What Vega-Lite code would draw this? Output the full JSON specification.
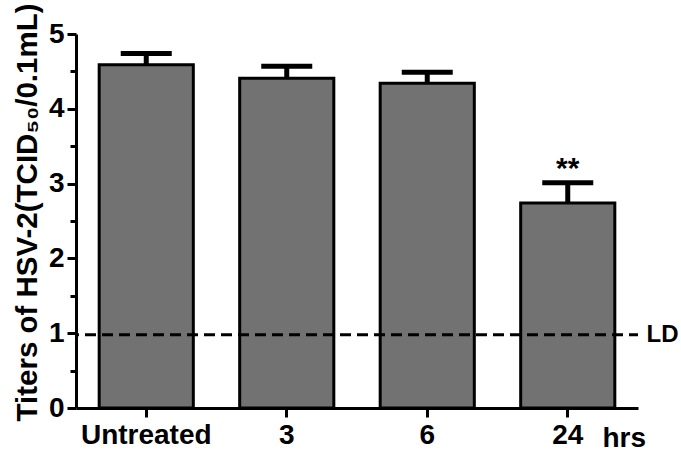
{
  "$schema": "https://vega.github.io/schema/vega-lite/v6.json",
  "width": 562,
  "height": 374,
  "autosize": "none",
  "padding": {"left": 76, "top": 34, "right": 43, "bottom": 44},
  "background": "white",
  "config": {
    "font": "Liberation Sans",
    "view": {"stroke": null},
    "axis": {"labelFontWeight": "bold", "titleFontWeight": "bold", "labelColor": "black", "titleColor": "black", "domainColor": "black", "tickColor": "black", "grid": false}
  },
  "datasets": {
    "bars": [
      {"group": "Untreated", "titer": 4.59, "upper": 4.74},
      {"group": "3", "titer": 4.41, "upper": 4.57},
      {"group": "6", "titer": 4.34, "upper": 4.49},
      {"group": "24", "titer": 2.74, "upper": 3.01}
    ],
    "ld": [{"label": "LD", "value": 0.98}],
    "sig": [{"group": "24", "pos": 3.2, "mark": "**"}]
  },
  "resolve": {"axis": {"y": "independent"}},
  "layer": [
    {
      "data": {"name": "bars"},
      "mark": {"type": "bar", "color": "#727272", "stroke": "black", "strokeWidth": 3},
      "encoding": {
        "x": {"field": "group", "type": "nominal", "sort": ["Untreated", "3", "6", "24"],
          "scale": {"paddingInner": 0.33, "paddingOuter": 0.165},
          "axis": {"title": "hrs", "titleFontSize": 28, "titleX": 526, "titleY": 38, "titleAlign": "left", "titleBaseline": "alphabetic", "labelFontSize": 28, "labelAngle": 0, "labelPadding": 4, "tickSize": 9, "tickWidth": 3, "domainWidth": 3}},
        "y": {"field": "titer", "type": "quantitative", "scale": {"domain": [0, 5], "nice": false},
          "axis": {"title": "Titers of HSV-2(TCID₅₀/0.1mL)", "titleFontSize": 29.5, "titlePadding": 6, "titleY": 178, "values": [0, 1, 2, 3, 4, 5], "labelFontSize": 28, "labelPadding": 3, "tickSize": 9, "tickWidth": 3, "domainWidth": 3}}
      }
    },
    {
      "data": {"name": "bars"},
      "mark": {"type": "rule", "color": "black", "strokeWidth": 5},
      "encoding": {
        "x": {"field": "group", "type": "nominal", "sort": ["Untreated", "3", "6", "24"]},
        "y": {"field": "titer", "type": "quantitative",
          "axis": {"title": null, "values": [0.5, 1.5, 2.5, 3.5, 4.5], "labels": false, "domain": false, "tickSize": 6, "tickWidth": 3, "orient": "left"}},
        "y2": {"field": "upper"}
      }
    },
    {
      "data": {"name": "bars"},
      "mark": {"type": "tick", "color": "black", "size": 51, "thickness": 5, "opacity": 1},
      "encoding": {
        "x": {"field": "group", "type": "nominal", "sort": ["Untreated", "3", "6", "24"]},
        "y": {"field": "upper", "type": "quantitative", "axis": null}
      }
    },
    {
      "data": {"name": "ld"},
      "mark": {"type": "rule", "color": "black", "strokeWidth": 3, "strokeDash": [11, 6], "strokeDashOffset": 2},
      "encoding": {
        "y": {"field": "value", "type": "quantitative",
          "axis": {"orient": "right", "title": null, "values": [0.98], "labelExpr": "'LD'", "labelFontSize": 24, "labelPadding": 8, "ticks": false, "domain": false}}
      }
    },
    {
      "data": {"name": "sig"},
      "mark": {"type": "text", "fontSize": 30, "fontWeight": "bold", "color": "black", "baseline": "middle"},
      "encoding": {
        "x": {"field": "group", "type": "nominal", "sort": ["Untreated", "3", "6", "24"]},
        "y": {"field": "pos", "type": "quantitative", "axis": null},
        "text": {"field": "mark"}
      }
    }
  ]
}
